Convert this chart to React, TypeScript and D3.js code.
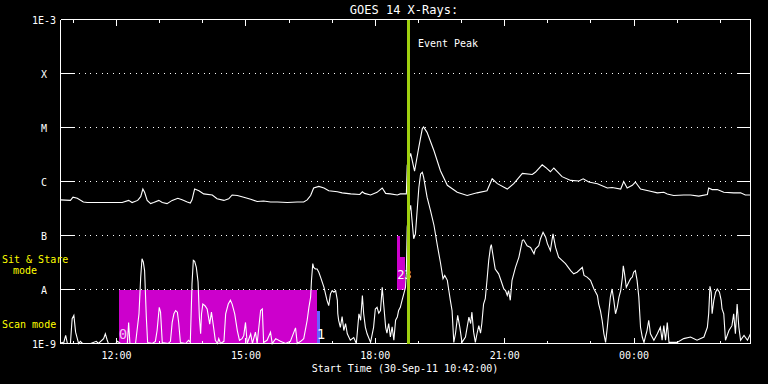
import React from "react";
import * as d3 from "d3";

const W = 768;
const H = 384;

// Time axis in decimal UT hours (30-Sep-11 10:42 to 01-Oct-11 02:42)
const startHour = 10.7;
const endHour = 26.7;
const xMajorHours = [12, 15, 18, 21, 24];
const xMajorLabels = ["12:00", "15:00", "18:00", "21:00", "00:00"];
const xMinorHours = [11, 13, 14, 16, 17, 19, 20, 22, 23, 25, 26];

// Flux decades (log10 W/m^2)
const yDecades = [-9, -8, -7, -6, -5, -4, -3];
const yLabels = ["1E-9", "A", "B", "C", "M", "X", "1E-3"];

const titleText = "GOES 14 X-Rays:";
const xAxisTitle = "Start Time (30-Sep-11 10:42:00)";
const eventPeakHour = 18.78;
const eventLabel = "Event Peak";

// Long channel (1-8 A), log10 flux
const longTimes = [
  10.70, 10.93, 10.99, 11.09, 11.23, 11.32, 11.78, 12.13, 12.28, 12.36, 12.49, 12.56, 12.61, 12.65, 12.71,
  12.79, 12.86, 12.98, 13.06, 13.17, 13.29, 13.42, 13.52, 13.64, 13.71, 13.75, 13.81, 13.91, 14.02, 14.22,
  14.33, 14.49, 14.60, 14.68, 14.80, 14.95, 15.11, 15.26, 15.41, 15.57, 15.73, 15.96, 16.19, 16.34, 16.42,
  16.50, 16.57, 16.69, 16.81, 16.92, 17.12, 17.23, 17.43, 17.64, 17.70, 17.75, 17.89, 18.04, 18.16, 18.24,
  18.35, 18.51, 18.58, 18.72, 18.74, 18.82, 18.91, 19.01, 19.09, 19.12, 19.20, 19.36, 19.51, 19.67, 19.90,
  20.13, 20.36, 20.59, 20.71, 20.83, 21.06, 21.21, 21.41, 21.64, 21.71, 21.87, 21.95, 22.06, 22.14, 22.33,
  22.53, 22.72, 22.82, 22.95, 23.15, 23.38, 23.49, 23.69, 23.76, 23.84, 23.96, 24.03, 24.15, 24.38, 24.54,
  24.69, 24.77, 24.92, 25.15, 25.31, 25.50, 25.70, 25.73, 25.81, 25.93, 26.08, 26.31, 26.47, 26.58, 26.70,
];
const longLogFlux = [
  -6.34, -6.35, -6.29, -6.31, -6.38, -6.39, -6.39, -6.39, -6.35, -6.39, -6.35, -6.28, -6.14, -6.20, -6.35,
  -6.41, -6.39, -6.35, -6.39, -6.41, -6.35, -6.31, -6.34, -6.38, -6.40, -6.34, -6.14, -6.17, -6.23, -6.25,
  -6.32, -6.35, -6.32, -6.25, -6.26, -6.29, -6.33, -6.37, -6.36, -6.38, -6.38, -6.39, -6.38, -6.38, -6.34,
  -6.26, -6.12, -6.09, -6.12, -6.17, -6.19, -6.21, -6.23, -6.24, -6.19, -6.22, -6.25, -6.20, -6.12, -6.22,
  -6.23, -6.25, -6.23, -6.23, -5.70, -5.48, -5.81, -5.36, -5.02, -4.99, -5.09, -5.43, -5.80, -6.07, -6.20,
  -6.26, -6.21, -6.17, -5.95, -6.04, -6.14, -6.04, -5.85, -5.87, -5.83, -5.69, -5.74, -5.82, -5.75, -5.91,
  -5.98, -5.99, -5.95, -6.01, -6.04, -6.12, -6.11, -6.14, -6.00, -6.12, -6.07, -6.01, -6.14, -6.18, -6.21,
  -6.20, -6.23, -6.26, -6.25, -6.25, -6.27, -6.24, -6.12, -6.15, -6.15, -6.20, -6.21, -6.21, -6.25, -6.25,
];

// Short channel (0.5-4 A), log10 flux
const shortTimes = [
  10.70, 10.74, 10.77, 10.82, 10.86, 10.93, 10.97, 11.01, 11.05, 11.09, 11.12, 11.16, 11.21, 11.40, 11.53,
  11.58, 11.70, 11.74, 11.78, 11.81, 11.98, 12.02, 12.09, 12.25, 12.28, 12.31, 12.44, 12.52, 12.56, 12.59,
  12.62, 12.65, 12.69, 12.72, 12.83, 12.90, 12.94, 12.99, 13.02, 13.06, 13.20, 13.25, 13.29, 13.33, 13.37,
  13.41, 13.44, 13.48, 13.60, 13.67, 13.71, 13.75, 13.78, 13.81, 13.85, 13.89, 13.92, 13.95, 13.97, 14.00,
  14.05, 14.10, 14.16, 14.20, 14.25, 14.29, 14.34, 14.37, 14.41, 14.49, 14.53, 14.59, 14.64, 14.68, 14.74,
  14.80, 14.85, 14.91, 14.95, 14.99, 15.03, 15.11, 15.15, 15.22, 15.26, 15.34, 15.38, 15.41, 15.49, 15.57,
  15.61, 15.69, 15.80, 15.92, 16.03, 16.15, 16.19, 16.27, 16.34, 16.42, 16.46, 16.50, 16.52, 16.55, 16.57,
  16.61, 16.65, 16.69, 16.73, 16.81, 16.88, 16.92, 16.96, 17.00, 17.04, 17.08, 17.12, 17.13, 17.15, 17.19,
  17.23, 17.27, 17.31, 17.35, 17.42, 17.50, 17.56, 17.62, 17.66, 17.70, 17.73, 17.77, 17.81, 17.89, 17.96,
  18.00, 18.04, 18.08, 18.12, 18.16, 18.20, 18.24, 18.27, 18.31, 18.35, 18.39, 18.43, 18.47, 18.51, 18.54,
  18.58, 18.62, 18.66, 18.70, 18.72, 18.74, 18.77, 18.82, 18.89, 18.93, 19.01, 19.05, 19.09, 19.12, 19.20,
  19.28, 19.36, 19.44, 19.51, 19.57, 19.61, 19.67, 19.70, 19.74, 19.78, 19.82, 19.86, 19.91, 19.96, 20.01,
  20.09, 20.17, 20.21, 20.24, 20.28, 20.32, 20.36, 20.40, 20.44, 20.47, 20.51, 20.55, 20.59, 20.63, 20.67,
  20.69, 20.73, 20.78, 20.86, 20.90, 20.98, 21.02, 21.06, 21.09, 21.13, 21.17, 21.25, 21.33, 21.41, 21.44,
  21.52, 21.60, 21.68, 21.71, 21.79, 21.83, 21.89, 21.95, 21.99, 22.06, 22.12, 22.18, 22.25, 22.33, 22.41,
  22.53, 22.60, 22.68, 22.80, 22.84, 22.91, 22.99, 23.07, 23.15, 23.18, 23.22, 23.26, 23.30, 23.34, 23.38,
  23.41, 23.45, 23.49, 23.53, 23.57, 23.61, 23.65, 23.69, 23.73, 23.75, 23.78, 23.82, 23.88, 23.92, 23.96,
  23.99, 24.03, 24.07, 24.11, 24.15, 24.19, 24.23, 24.27, 24.30, 24.34, 24.38, 24.46, 24.54, 24.61, 24.65,
  24.69, 24.73, 24.77, 24.81, 25.00, 25.15, 25.31, 25.46, 25.62, 25.70, 25.73, 25.76, 25.79, 25.81, 25.85,
  25.89, 25.93, 25.98, 26.02, 26.04, 26.08, 26.12, 26.20, 26.27, 26.31, 26.35, 26.39, 26.43, 26.47, 26.55,
  26.63, 26.70,
];
const shortLogFlux = [
  -9.00, -8.98, -9.00, -8.85, -9.00, -9.00, -8.54, -8.48, -8.79, -8.91, -9.00, -8.96, -9.00, -9.00, -8.96,
  -9.00, -8.91, -8.82, -8.93, -9.00, -9.00, -8.96, -9.00, -9.00, -8.61, -9.00, -9.00, -8.45, -7.77, -7.43,
  -7.49, -7.65, -8.51, -8.98, -9.00, -8.96, -8.76, -8.33, -8.42, -8.98, -9.00, -8.96, -8.61, -8.45, -8.39,
  -8.42, -8.61, -8.98, -9.00, -8.94, -8.98, -7.89, -7.46, -7.48, -7.59, -7.86, -8.51, -8.82, -8.45, -8.27,
  -8.30, -8.36, -8.64, -8.42, -8.70, -8.94, -9.00, -8.91, -9.00, -8.96, -8.45, -8.27, -8.20, -8.27, -8.45,
  -8.76, -8.94, -8.91, -8.85, -8.61, -9.00, -8.82, -9.00, -8.79, -9.00, -8.39, -8.36, -8.98, -8.94, -8.79,
  -9.00, -8.91, -8.96, -9.00, -8.96, -8.71, -9.00, -8.96, -8.91, -8.57, -8.33, -8.14, -7.83, -7.52, -7.59,
  -7.62, -7.62, -7.68, -7.77, -7.96, -8.20, -8.30, -8.08, -8.02, -8.05, -8.02, -8.20, -8.45, -8.57, -8.70,
  -8.50, -8.76, -8.63, -8.82, -8.94, -8.89, -9.00, -8.45, -8.57, -8.11, -8.45, -8.70, -8.82, -8.98, -8.70,
  -8.36, -8.33, -8.44, -8.39, -7.96, -8.33, -8.70, -8.81, -8.63, -8.88, -8.69, -8.94, -8.57, -8.51, -8.39,
  -8.33, -8.20, -8.08, -7.96, -7.65, -6.85, -6.63, -6.44, -7.06, -6.97, -6.11, -5.86, -5.83, -5.92, -6.29,
  -6.54, -6.81, -7.19, -7.50, -7.80, -7.74, -7.83, -7.99, -8.20, -8.39, -8.98, -8.81, -8.48, -8.70, -8.98,
  -8.88, -8.51, -8.63, -8.42, -8.79, -8.98, -8.81, -8.67, -8.81, -8.63, -8.27, -8.17, -7.83, -7.46, -7.22,
  -7.17, -7.37, -7.62, -7.71, -7.80, -7.99, -8.02, -8.11, -8.02, -8.20, -7.83, -7.59, -7.40, -7.09, -7.08,
  -7.19, -7.22, -7.34, -7.25, -7.19, -7.06, -6.94, -7.03, -7.15, -7.28, -6.97, -7.22, -7.40, -7.46, -7.52,
  -7.65, -7.71, -7.68, -7.59, -7.74, -7.77, -7.83, -7.99, -8.11, -8.27, -8.39, -8.57, -8.82, -8.98, -8.70,
  -8.45, -8.14, -7.99, -8.20, -8.45, -8.33, -8.14, -8.02, -7.77, -7.56, -7.71, -7.96, -7.86, -7.80, -7.77,
  -7.68, -7.65, -7.83, -8.14, -8.70, -8.88, -8.98, -8.85, -8.76, -8.57, -8.82, -8.94, -8.82, -8.70, -8.94,
  -8.67, -8.94, -8.61, -8.98, -8.98, -8.91, -8.88, -8.94, -8.88, -8.70, -8.45, -7.94, -8.05, -8.45, -8.20,
  -8.05, -7.99, -8.05, -8.20, -8.36, -8.45, -8.94, -8.76, -8.67, -8.45, -8.82, -8.27, -8.70, -8.94, -8.85,
  -8.94, -8.82,
];

// Observation mode blocks (scan mode lane: 1E-9..A, sit & stare lane: A..B)
const modeStart = [12.05, 16.64, 18.51, 18.58];
const modeEnd = [16.64, 16.71, 18.58, 18.68];
const modeBase = [-9, -9, -8, -8];
const modeTop = [-8, -8.39, -7, -7.39];
const modeLabels = ["0", "1", "2", "3"];
const modeColors = ["#cc00cc", "#6464ff", "#cc00cc", "#cc00cc"];
const modeLabelColors = ["#f2c8f2", "#ffffff", "#ffffff", "#ffffff"];

const FONT = "'DejaVu Sans Mono', 'Liberation Mono', monospace";

export default function App() {
  const x = d3.scaleLinear().domain([startHour, endHour]).range([60.5, 750.5]);
  const y = d3.scaleLog().domain([1e-9, 1e-3]).range([343.5, 19.5]);
  const yl = (v: number) => y(Math.pow(10, Math.max(-9, v)));

  const line = d3
    .line<[number, number]>()
    .x((d) => x(d[0]))
    .y((d) => yl(d[1]));

  const longPath = line(longTimes.map((t, i) => [t, longLogFlux[i]] as [number, number])) || "";
  const shortPath = line(shortTimes.map((t, i) => [t, shortLogFlux[i]] as [number, number])) || "";

  const x0 = x(startHour);
  const x1 = x(endHour);
  const yTop = y(1e-3);
  const yBot = y(1e-9);

  // label placement per block (scan lane labels larger, sit & stare labels side by side)
  const labelX = (i: number) => x(modeStart[i]) + (i === 3 ? 4 : 0);
  const labelY = (i: number) => (modeBase[i] === -9 ? yl(-9) - 5 : yl(-8) - 11);
  const labelSize = (i: number) => (modeBase[i] === -9 ? 14 : 12);

  return (
    <svg
      width={W}
      height={H}
      style={{ position: "absolute", left: 0, top: 0, display: "block", background: "#000" }}
    >
      <rect x={0} y={0} width={W} height={H} fill="#000" />

      {/* title */}
      <text x={404} y={14} fill="#fff" fontFamily={FONT} fontSize={12} textAnchor="middle">
        {titleText}
      </text>

      {/* mode blocks */}
      {modeStart.map((s, i) => (
        <rect
          key={"m" + i}
          x={x(s)}
          y={yl(modeTop[i])}
          width={x(modeEnd[i]) - x(s)}
          height={yl(modeBase[i]) - yl(modeTop[i])}
          fill={modeColors[i]}
          shapeRendering="crispEdges"
        />
      ))}

      {/* grid lines */}
      {yDecades.slice(1, -1).map((d) => (
        <g key={"g" + d} shapeRendering="crispEdges">
          <line
            x1={79}
            x2={735}
            y1={y(Math.pow(10, d))}
            y2={y(Math.pow(10, d))}
            stroke="#fff"
            strokeWidth={1}
            strokeDasharray="1 4.67"
          />
          <line x1={x0} x2={x0 + 14} y1={y(Math.pow(10, d))} y2={y(Math.pow(10, d))} stroke="#fff" />
          <line x1={x1 - 14} x2={x1} y1={y(Math.pow(10, d))} y2={y(Math.pow(10, d))} stroke="#fff" />
        </g>
      ))}

      {/* curves */}
      <path d={shortPath} fill="none" stroke="#fff" strokeWidth={1.1} strokeLinejoin="miter" />
      <path d={longPath} fill="none" stroke="#fff" strokeWidth={1.1} strokeLinejoin="miter" />

      {/* mode labels */}
      {modeStart.map((s, i) => (
        <text
          key={"ml" + i}
          x={labelX(i)}
          y={labelY(i)}
          fill={modeLabelColors[i]}
          fontFamily={FONT}
          fontSize={labelSize(i)}
        >
          {modeLabels[i]}
        </text>
      ))}

      {/* frame */}
      <g shapeRendering="crispEdges" stroke="#fff" strokeWidth={1}>
        <line x1={x0} x2={x1} y1={yTop} y2={yTop} />
        <line x1={x0} x2={x1} y1={yBot} y2={yBot} />
        <line x1={x0} x2={x0} y1={yTop} y2={yBot} />
        <line x1={x1} x2={x1} y1={yTop} y2={yBot} />
        {xMajorHours.map((h) => (
          <g key={"M" + h}>
            <line x1={x(h)} x2={x(h)} y1={yTop} y2={yTop + 6} />
            <line x1={x(h)} x2={x(h)} y1={yBot} y2={yBot - 6} />
          </g>
        ))}
        {xMinorHours.map((h) => (
          <g key={"m" + h}>
            <line x1={x(h)} x2={x(h)} y1={yTop} y2={yTop + 3} />
            <line x1={x(h)} x2={x(h)} y1={yBot} y2={yBot - 3} />
          </g>
        ))}
      </g>

      {/* event peak */}
      <line
        x1={x(eventPeakHour)}
        x2={x(eventPeakHour)}
        y1={yTop}
        y2={yBot}
        stroke="#a0d010"
        strokeWidth={3}
        shapeRendering="crispEdges"
      />
      <text x={x(eventPeakHour) + 9} y={47} fill="#fff" fontFamily={FONT} fontSize={10}>
        {eventLabel}
      </text>

      {/* y labels */}
      {yDecades.map((d, i) => (
        <text
          key={"yl" + d}
          x={44}
          y={y(Math.pow(10, d)) + 4}
          fill="#fff"
          fontFamily={FONT}
          fontSize={10}
          textAnchor="middle"
        >
          {yLabels[i]}
        </text>
      ))}

      {/* x labels */}
      {xMajorHours.map((h, i) => (
        <text
          key={"xl" + h}
          x={x(h)}
          y={359}
          fill="#fff"
          fontFamily={FONT}
          fontSize={10}
          textAnchor="middle"
        >
          {xMajorLabels[i]}
        </text>
      ))}
      <text x={405} y={372} fill="#fff" fontFamily={FONT} fontSize={10} textAnchor="middle">
        {xAxisTitle}
      </text>

      {/* mode legend */}
      <text x={2} y={263} fill="#ffff00" fontFamily={FONT} fontSize={10}>
        Sit &amp; Stare
      </text>
      <text x={13} y={274} fill="#ffff00" fontFamily={FONT} fontSize={10}>
        mode
      </text>
      <text x={2} y={328} fill="#ffff00" fontFamily={FONT} fontSize={10}>
        Scan mode
      </text>
    </svg>
  );
}
